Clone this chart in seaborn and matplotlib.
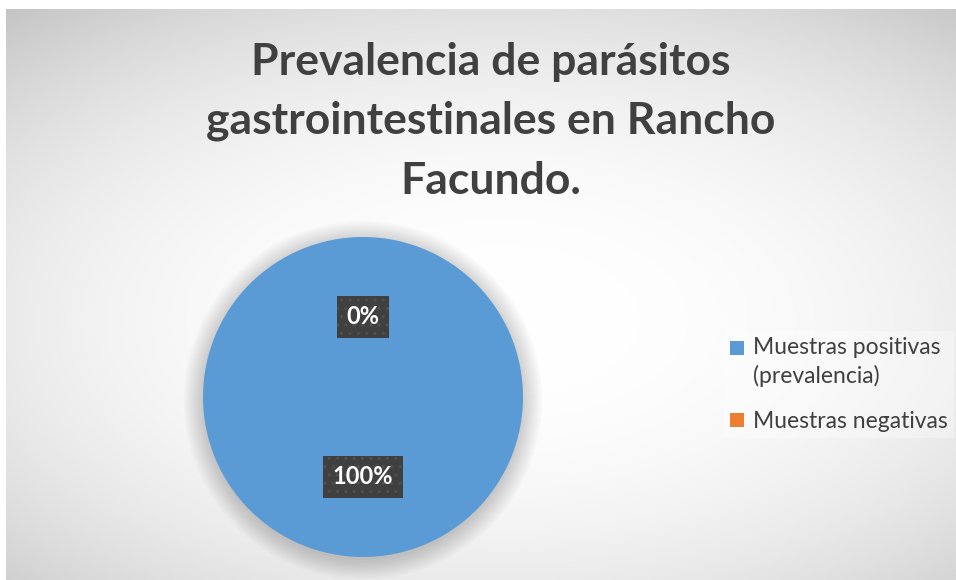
import matplotlib

matplotlib.use("Agg")
import matplotlib.pyplot as plt
import numpy as np
import seaborn as sns
from matplotlib.legend_handler import HandlerPatch
from matplotlib.patches import Patch, Circle, Rectangle

categories = ["Muestras positivas\n(prevalencia)", "Muestras negativas"]
values = [100, 0]
colors = ["#5b9bd5", "#ed7d31"]
title = "Prevalencia de parásitos\ngastrointestinales en Rancho\nFacundo."

sns.set_style("white")
plt.rcParams["font.family"] = ["Lato", "DejaVu Sans"]


def square_on_first_line(label):
    # put the legend square next to the first text line of a wrapped label
    n_lines = label.count("\n") + 1

    def make(legend, orig_handle, xdescent, ydescent, width, height, fontsize):
        side = 0.62 * fontsize
        shift = (n_lines - 1) * 0.62 * fontsize
        return Rectangle((-xdescent, -ydescent + (height - side) / 2 + shift), side, side)

    return HandlerPatch(patch_func=make)


fig = plt.figure(figsize=(9.56, 5.8), dpi=100)
fig.patch.set_facecolor("white")

# radial gradient chart area background
bg = fig.add_axes([6 / 956, 0, 950 / 956, 571 / 580], zorder=0)
yy, xx = np.mgrid[0:571, 0:950]
dist = np.hypot((xx - 494) / 560, (yy - 311) / 300)
shade = 1.0 - 0.23 * (dist / 1.36) ** 2.4
rgb = np.dstack([shade] * 3)
bg.imshow(np.clip(rgb, 0, 1), aspect="auto", interpolation="bilinear")
bg.axis("off")

fig.text(0.513, 0.791, title, ha="center", va="center", fontsize=32,
         fontweight="bold", color="#404040", linespacing=1.58)

R = 160
size = 1.3 * R
ax = fig.add_axes([(363 - size) / 956, (580 - 397 - size) / 580, 2 * size / 956, 2 * size / 580], zorder=1)
ax.set_facecolor("none")

# soft shadow behind pie
for r in np.linspace(1.0, 1.12, 10):
    ax.add_patch(Circle((0.0, -0.02), r, color="black", alpha=0.018, lw=0, zorder=0))

wedges, texts, autotexts = ax.pie(
    values,
    colors=colors,
    startangle=90,
    counterclock=False,
    autopct="%1.0f%%",
    pctdistance=0.5,
    wedgeprops={"linewidth": 0, "zorder": 2},
    textprops={"fontsize": 17, "fontweight": "bold", "color": "white"},
)
for t in autotexts:
    t.set_zorder(5)
    t.set_bbox({"boxstyle": "square,pad=0.42", "facecolor": "#404040",
                "edgecolor": "#505050", "linewidth": 0, "hatch": ".."})
ax.set_xlim(-1.3, 1.3)
ax.set_ylim(-1.3, 1.3)
ax.set_aspect("equal")
ax.axis("off")

handles = [Patch(facecolor=c, edgecolor="none") for c in colors]
handler_map = {h: square_on_first_line(lab) for h, lab in zip(handles, categories)}
leg = fig.legend(handles, categories, loc="upper left", handler_map=handler_map,
                 bbox_to_anchor=(724 / 956, 1 - 331 / 580), fontsize=16.5,
                 frameon=True, fancybox=False, handlelength=0.62, handleheight=0.6,
                 handletextpad=0.4, labelspacing=1.08, borderpad=0.25, borderaxespad=0)
leg.get_frame().set_facecolor("white")
leg.get_frame().set_alpha(0.35)
leg.get_frame().set_linewidth(0)
for t in leg.get_texts():
    t.set_color("#404040")
    t.set_linespacing(1.38)

fig.savefig("out.png", dpi=100)
